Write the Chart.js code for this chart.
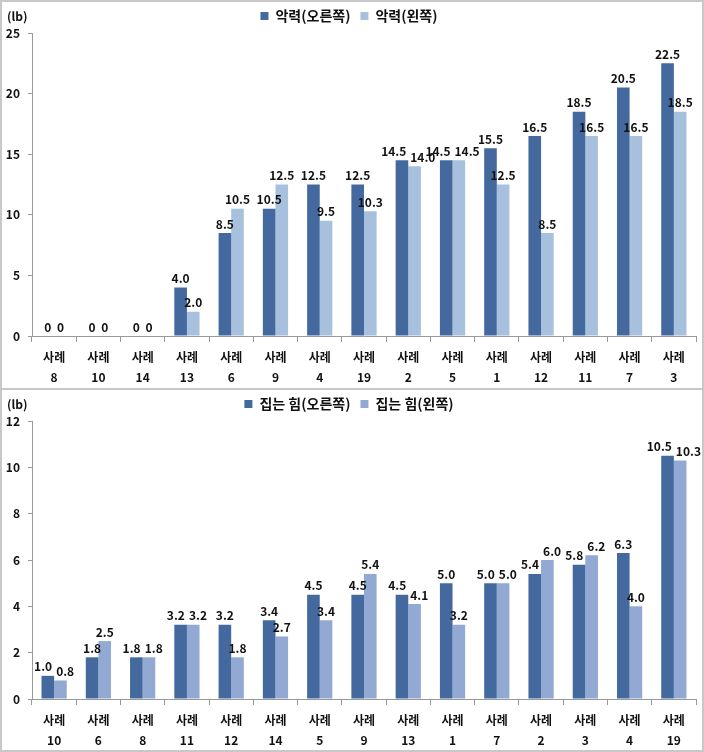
<!DOCTYPE html>
<html>
<head>
<meta charset="utf-8">
<script src="https://cdn.jsdelivr.net/npm/chart.js@4"></script>
<style>
body { margin: 0; background: #fff; }
.box { position: absolute; left: 0; width: 700px; border: 2px solid #c8c8c8; background: #fff; }
#box1 { top: 0; height: 386px; }
#box2 { top: 388px; height: 360px; }
canvas { display: block; }
</style>
</head>
<body>
<div class="box" id="box1"><canvas id="grip-chart" width="700" height="386"></canvas></div>
<div class="box" id="box2"><canvas id="pinch-chart" width="700" height="360"></canvas></div>
<script>
// 악력 (grip strength)
const gripCases = ['8', '10', '14', '13', '6', '9', '4', '19', '2', '5', '1', '12', '11', '7', '3'];
const gripRight = [0, 0, 0, 4.0, 8.5, 10.5, 12.5, 12.5, 14.5, 14.5, 15.5, 16.5, 18.5, 20.5, 22.5];
const gripLeft  = [0, 0, 0, 2.0, 10.5, 12.5, 9.5, 10.3, 14.0, 14.5, 12.5, 8.5, 16.5, 16.5, 18.5];

// 집는 힘 (pinch strength)
const pinchCases = ['10', '6', '8', '11', '12', '14', '5', '9', '13', '1', '7', '2', '3', '4', '19'];
const pinchRight = [1.0, 1.8, 1.8, 3.2, 3.2, 3.4, 4.5, 4.5, 4.5, 5.0, 5.0, 5.4, 5.8, 6.3, 10.5];
const pinchLeft  = [0.8, 2.5, 1.8, 3.2, 1.8, 2.7, 3.4, 5.4, 4.1, 3.2, 5.0, 6.0, 6.2, 4.0, 10.3];

const FONT = '"Noto Sans CJK KR", "Noto Sans", sans-serif';
const DARK = '#44699f';

// value labels above each bar; the pair in one category is pushed apart if they collide
const valueLabels = {
    id: 'valueLabels',
    afterDatasetsDraw(chart, args, opts) {
        const ctx = chart.ctx;
        ctx.save();
        ctx.font = 'bold 12px ' + FONT;
        ctx.fillStyle = '#111';
        ctx.textAlign = 'center';
        ctx.textBaseline = 'bottom';
        const d0 = chart.data.datasets[0].data;
        const d1 = chart.data.datasets[1].data;
        const m0 = chart.getDatasetMeta(0).data;
        const m1 = chart.getDatasetMeta(1).data;
        for (let j = 0; j < d0.length; j++)
        {
            const t0 = opts.format(d0[j]);
            const t1 = opts.format(d1[j]);
            let x0 = m0[j].x;
            let x1 = m1[j].x;
            const need = (ctx.measureText(t0).width + ctx.measureText(t1).width) / 2 + 4;
            if (Math.abs(m0[j].y - m1[j].y) < 14 && x1 - x0 < need)
            {
                const shift = (need - (x1 - x0)) / 2;
                x0 -= shift;
                x1 += shift;
            }
            ctx.fillText(t0, x0, m0[j].y - 3);
            ctx.fillText(t1, x1, m1[j].y - 3);
        }
        ctx.restore();
    }
};

// "(lb)" unit text in the top left corner
const unitLabel = {
    id: 'unitLabel',
    afterDraw(chart) {
        const ctx = chart.ctx;
        ctx.save();
        ctx.font = 'bold 12px ' + FONT;
        ctx.fillStyle = '#111';
        ctx.textAlign = 'left';
        ctx.textBaseline = 'middle';
        ctx.fillText('(lb)', 5, 14);
        ctx.restore();
    }
};

function make_options(yMax, yStep, xHeight, fmt)
{
    return {
        responsive: false,
        animation: false,
        layout: { padding: { top: -3, right: 6, bottom: 0, left: 0 } },
        plugins: {
            legend: {
                position: 'top',
                labels: {
                    boxWidth: 8,
                    boxHeight: 8,
                    padding: 10,
                    color: '#111',
                    font: { family: FONT, size: 14, weight: 'bold' }
                }
            },
            tooltip: { enabled: false },
            valueLabels: { format: fmt }
        },
        scales: {
            x: {
                afterFit: scale => { scale.height = xHeight; },
                border: { color: '#999' },
                grid: { drawOnChartArea: false, tickLength: 6, color: '#999', offset: true },
                ticks: {
                    color: '#111',
                    padding: 6,
                    font: { family: FONT, size: 12, weight: 'bold', lineHeight: 1.65 }
                }
            },
            y: {
                min: 0,
                max: yMax,
                afterFit: scale => { scale.width = 30; },
                border: { color: '#999' },
                grid: { drawOnChartArea: false, tickLength: 4, color: '#999' },
                ticks: {
                    stepSize: yStep,
                    color: '#111',
                    padding: 8,
                    font: { family: FONT, size: 12, weight: 'bold' }
                }
            }
        }
    };
}

const grip_ctx = document.getElementById('grip-chart').getContext('2d');

const grip_chart = new Chart(grip_ctx, {
    type: 'bar',
    data: {
        labels: gripCases.map(c => ['사례', c]),
        datasets: [{
            label: '악력(오른쪽)',
            data: gripRight,
            backgroundColor: DARK,
            categoryPercentage: 0.57,
            barPercentage: 1
        }, {
            label: '악력(왼쪽)',
            data: gripLeft,
            backgroundColor: '#a7c0dd',
            categoryPercentage: 0.57,
            barPercentage: 1
        }]
    },
    options: make_options(25, 5, 52, v => v === 0 ? '0' : v.toFixed(1)),
    plugins: [valueLabels, unitLabel]
});

const pinch_ctx = document.getElementById('pinch-chart').getContext('2d');

const pinch_chart = new Chart(pinch_ctx, {
    type: 'bar',
    data: {
        labels: pinchCases.map(c => ['사례', c]),
        datasets: [{
            label: '집는 힘(오른쪽)',
            data: pinchRight,
            backgroundColor: DARK,
            categoryPercentage: 0.57,
            barPercentage: 1
        }, {
            label: '집는 힘(왼쪽)',
            data: pinchLeft,
            backgroundColor: '#92a9d3',
            categoryPercentage: 0.57,
            barPercentage: 1
        }]
    },
    options: make_options(12, 2, 51, v => v.toFixed(1)),
    plugins: [valueLabels, unitLabel]
});
</script>
</body>
</html>
